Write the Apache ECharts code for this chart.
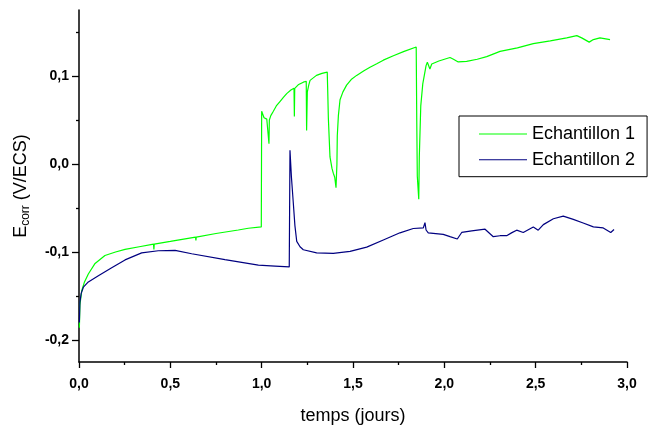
<!DOCTYPE html>
<html><head><meta charset="utf-8">
<script src="https://cdn.jsdelivr.net/npm/echarts@6/dist/echarts.min.js"></script>
<style>html,body{margin:0;padding:0;background:#fff}#c{width:653px;height:430px}</style>
</head><body><div id="c"></div>
<script>
const seriesNames = ['Echantillon 1', 'Echantillon 2'];
const xTicks = [0, 0.5, 1.0, 1.5, 2.0, 2.5, 3.0];
const yTicks = [-0.2, -0.1, 0.0, 0.1];
const yMinorTicks = [-0.15, -0.05, 0.05, 0.15];

const e1x = [0.002,0.005,0.015,0.03,0.051,0.088,0.142,0.2,0.252,0.33,0.408,0.41,0.412,0.5,0.638,0.64,0.642,0.75,0.872,0.927,0.998,1.0,
  1.005,1.013,1.028,1.038,1.04,1.042,1.05,1.064,1.08,1.1,1.12,1.137,1.16,1.177,1.179,1.181,1.2,1.228,1.244,1.246,1.25,1.258,1.265,1.3,1.33,1.359,
  1.362,1.365,1.374,1.385,1.392,1.4,1.407,1.412,1.414,1.42,1.429,1.445,1.465,1.49,1.52,1.56,1.593,1.63,1.666,1.721,1.78,1.846,
  1.849,1.852,1.86,1.863,1.871,1.882,1.9,1.907,1.921,1.931,1.97,2.031,2.05,2.076,2.122,2.18,2.232,2.305,2.4,2.487,2.58,2.67,2.725,2.752,2.793,2.816,2.852,2.907];
const e1y = [-0.186,-0.16,-0.144,-0.134,-0.125,-0.113,-0.104,-0.1,-0.097,-0.094,-0.091,-0.097,-0.091,-0.088,-0.083,-0.087,-0.083,-0.079,-0.075,-0.073,-0.0715,0.060,
  0.060,0.0526,0.051,0.05,0.023,0.05,0.055,0.06,0.066,0.071,0.076,0.080,0.084,0.086,0.054,0.086,0.09,0.093,0.094,0.038,0.082,0.09,0.095,0.1007,0.103,0.1044,
  0.08,0.0526,0.008,-0.005,-0.0104,-0.015,-0.027,0.0,0.032,0.055,0.073,0.082,0.0896,0.096,0.1007,0.106,0.11,0.114,0.118,0.123,0.128,0.133,
  0.05,-0.014,-0.04,0.008,0.066,0.091,0.1118,0.1156,0.108,0.1137,0.117,0.121,0.119,0.116,0.1167,0.119,0.122,0.128,0.132,0.1367,0.14,0.1433,0.1459,0.1433,0.1385,0.1414,0.1433,0.1414];

const e2x = [0.002,0.005,0.012,0.024,0.051,0.106,0.179,0.252,0.343,0.434,0.526,0.617,0.799,0.982,1.073,1.151,1.155,1.163,1.173,1.182,1.192,1.21,1.228,1.301,1.392,1.484,1.575,1.666,1.757,1.83,1.885,1.894,1.9,1.912,1.994,2.031,2.071,2.095,2.15,2.223,2.268,2.305,2.341,2.37,2.396,2.432,2.487,2.514,2.542,2.597,2.651,2.706,2.76,2.816,2.87,2.911,2.929];
const e2y = [-0.18,-0.157,-0.147,-0.14,-0.134,-0.127,-0.118,-0.109,-0.101,-0.0986,-0.0982,-0.102,-0.1086,-0.115,-0.116,-0.117,0.0156,-0.015,-0.0438,-0.07,-0.088,-0.094,-0.0974,-0.101,-0.1015,-0.0993,-0.0945,-0.0863,-0.0782,-0.0733,-0.0726,-0.0667,-0.075,-0.0782,-0.08,-0.0826,-0.0852,-0.0778,-0.076,-0.0741,-0.0826,-0.0815,-0.0815,-0.078,-0.0752,-0.0778,-0.0715,-0.0752,-0.0689,-0.0622,-0.0593,-0.063,-0.067,-0.0715,-0.0726,-0.0778,-0.0744];

const zip = (xs, ys) => xs.map((x, i) => [x, ys[i]]);
const fmt = v => (Math.abs(v) < 1e-9 ? 0 : v).toFixed(1).replace('.', ',');
const FONT = 'Liberation Sans, Arial, sans-serif';

const chart = echarts.init(document.getElementById('c'), null, {renderer: 'canvas'});
chart.setOption({
  animation: false,
  backgroundColor: '#fff',
  grid: {left: 79, top: 10, width: 548, height: 360, containLabel: false},
  legend: {
    left: 459, top: 116,
    orient: 'vertical',
    padding: [9, 12, 8, 20],
    itemGap: 7.7,
    itemWidth: 48, itemHeight: 18,
    borderColor: '#000', borderWidth: 1,
    textStyle: {fontFamily: FONT, fontSize: 18, color: '#000', padding: [0, 0, 0, 0]},
    data: seriesNames.map(n => ({name: n, icon: 'path://M0,0L48,0L48,1L0,1Z'}))
  },
  xAxis: {
    type: 'value', min: 0, max: 3, interval: 0.5,
    name: 'temps (jours)', nameLocation: 'middle', nameGap: 45,
    nameTextStyle: {fontFamily: FONT, fontSize: 18, color: '#000'},
    axisLine: {show: true, onZero: false, lineStyle: {color: '#000', width: 1.5}},
    axisTick: {show: true, length: 6, lineStyle: {color: '#000', width: 1.3}},
    minorTick: {show: true, splitNumber: 2, length: 3, lineStyle: {color: '#000', width: 1.3}},
    splitLine: {show: false},
    axisLabel: {fontFamily: FONT, fontSize: 14, fontWeight: 'bold', color: '#000', margin: 15, formatter: fmt}
  },
  yAxis: [{
    type: 'value', min: -0.225, max: 0.175,
    name: '{a|E}{b|corr}{a| (V/ECS)}', nameLocation: 'middle', nameGap: 47, nameRotate: 90,
    nameTextStyle: {fontFamily: FONT, color: '#000', rich: {
      a: {fontFamily: FONT, fontSize: 18, color: '#000'},
      b: {fontFamily: FONT, fontSize: 12, color: '#000', verticalAlign: 'bottom', padding: [9, 0, 0, 0]}
    }},
    axisLine: {show: true, onZero: false, lineStyle: {color: '#000', width: 1.5}},
    axisTick: {show: true, length: 7, customValues: yTicks, lineStyle: {color: '#000', width: 1.3}},
    splitLine: {show: false},
    axisLabel: {fontFamily: FONT, fontSize: 14, fontWeight: 'bold', color: '#000', margin: 10, customValues: yTicks, formatter: fmt}
  }, {
    type: 'value', min: -0.225, max: 0.175, position: 'left', offset: 0,
    axisLine: {show: false, onZero: false},
    axisTick: {show: true, length: 3, customValues: yMinorTicks, lineStyle: {color: '#000', width: 1.3}},
    axisLabel: {show: false},
    splitLine: {show: false}
  }],
  series: [{
    name: seriesNames[0], type: 'line', symbol: 'none', yAxisIndex: 0,
    data: zip(e1x, e1y),
    lineStyle: {color: '#00ff00', width: 1.2}, itemStyle: {color: '#00ff00'}
  }, {
    name: seriesNames[1], type: 'line', symbol: 'none', yAxisIndex: 0,
    data: zip(e2x, e2y),
    lineStyle: {color: '#000080', width: 1.2}, itemStyle: {color: '#000080'}
  }]
});
</script></body></html>
